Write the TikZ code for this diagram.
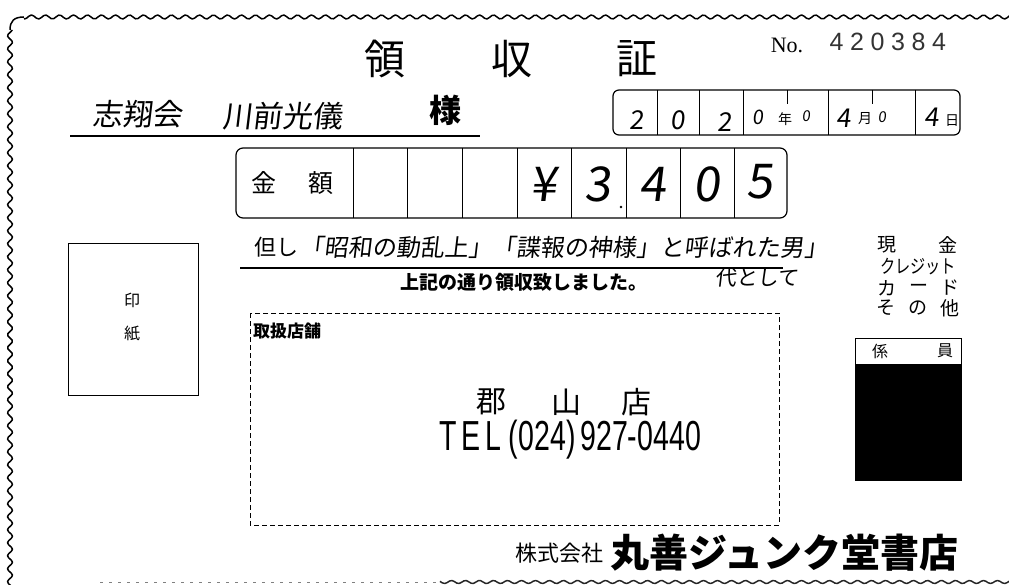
\documentclass[tikz,border=0pt]{standalone}
\usepackage{fontspec}
\newfontfamily\jp{Noto Sans CJK JP}
\newfontfamily\hand[FakeSlant=0.12]{Noto Sans CJK JP}
\newfontfamily\lsans{Liberation Sans}
\newfontfamily\lserif{Liberation Serif}
\newcommand\fsz[1]{\fontsize{#1pt}{#1pt}\selectfont}
\tikzset{
  waveline/.style={line width=1.5pt, line join=round},
  frameline/.style={line width=1.2pt},
  jptxt/.style={inner sep=0pt, font=\jp},
  hwtxt/.style={inner sep=0pt, font=\hand},
  dashbox/.style={line width=1pt, dash pattern=on 5pt off 3pt}
}
\begin{document}
\begin{tikzpicture}[x=1pt,y=-1pt]
\useasboundingbox (0,0) rectangle (1009,585);
% wavy border
\draw[waveline] plot[smooth, domain=24:1012, samples=400] (\x,{17-2*sin(mod(\x,14)*360/14)});
\draw[waveline] plot[smooth, domain=30:588, samples=260] ({10+2.5*sin(mod(\x,13)*360/13)},\x);
\draw[waveline] (10,30) .. controls (10,21) and (14,17) .. (24,17);
\draw[waveline, black!85] plot[smooth, domain=440:1012, samples=240] (\x,{582-1.5*sin(mod(\x,14)*360/14)});
\draw[gray, line width=1pt, dash pattern=on 3pt off 6pt] (100,582) -- (440,582);

% title
\node[jptxt] (ryo) at (385,59) {\fsz{41}領};
\node[jptxt] (shu) at (512,59) {\fsz{41}収};
\node[jptxt] (sho) at (637,59) {\fsz{41}証};
\node[inner sep=0pt, font=\lserif] (noLbl) at (787,45) {\fsz{22}No.};
\foreach \d [count=\i] in {4,2,0,3,8,4}
  \node[inner sep=0pt, font=\lsans, text=black!80] (num\i) at (816+20.5*\i,42) {\fsz{25}\d};

% name
\node[hwtxt] (nm1) at (137,114) {\fsz{30}志翔会};
\node[hwtxt] (nm2) at (282,116) {\fsz{30}川前光儀};
\draw[line width=1.6pt] (70,136) -- (480,136);
\node[jptxt] (sama) at (445,110) {\fsz{32}\bfseries 様};

% date box
\draw[frameline, rounded corners=6pt] (613,90) rectangle (960,135);
\foreach \x in {657,699,743,828,915} \draw[line width=1pt] (\x,90) -- (\x,135);
\foreach \x in {787,872} \draw[line width=0.8pt] (\x,90) -- (\x,104);
\node[hwtxt] (d1) at (637,120) {\fsz{26}2};
\node[hwtxt] (d2) at (678,120) {\fsz{26}0};
\node[hwtxt] (d3) at (725,122) {\fsz{26}2};
\node[hwtxt] (d4) at (758,117) {\fsz{20}0};
\node[jptxt] (nen) at (785,119) {\fsz{14}年};
\node[hwtxt] (d5) at (806,116) {\fsz{15}0};
\node[hwtxt] (d6) at (844,118) {\fsz{26}4};
\node[jptxt] (tsuki) at (865,119) {\fsz{14}月};
\node[hwtxt] (d7) at (882,117) {\fsz{15}0};
\node[hwtxt] (d8) at (932,117) {\fsz{26}4};
\node[jptxt] (hi) at (952,121) {\fsz{14}日};

% amount box
\draw[frameline, rounded corners=7pt] (236,148) rectangle (787,218);
\foreach \x in {353,407,462,517,571,626,680,734} \draw[line width=1pt] (\x,148) -- (\x,218);
\node[jptxt] (kin) at (264,183) {\fsz{25}金};
\node[jptxt] (gaku) at (321,183) {\fsz{25}額};
\node[hwtxt] (yen) at (544,184) {\fsz{48}¥};
\node[hwtxt] (a1) at (598,184) {\fsz{48}3};
\fill (621,207) circle (1.3pt);
\node[hwtxt] (a2) at (653,184) {\fsz{48}4};
\node[hwtxt] (a3) at (707,184) {\fsz{48}0};
\node[hwtxt] (a4) at (760,182) {\fsz{48}5};

% purpose
\node[jptxt] (tadashi) at (276,247) {\fsz{22}但し};
\node[hwtxt, anchor=west] (purp) at (300,247) {\fsz{24}「昭和の動乱上」「諜報の神様」と呼ばれた男」};
\draw[line width=1.6pt] (240,268) -- (783,268);
\node[jptxt, anchor=west] (joki) at (400,282) {\fsz{19}\bfseries 上記の通り領収致しました。};
\node[hwtxt] (dai) at (757,278) {\fsz{21}代として};

% stamp box
\draw[line width=1pt] (68,244) rectangle (198,395);
\node[jptxt] (in) at (132,300) {\fsz{16}印};
\node[jptxt] (shi) at (132,334) {\fsz{16}紙};

% store box
\draw[dashbox] (250,313) rectangle (779,525);
\node[jptxt, anchor=west] (toriatsukai) at (253,331) {\fsz{17}\bfseries 取扱店舗};
\node[jptxt] (s1) at (491,402) {\fsz{30}郡};
\node[jptxt] (s2) at (566,402) {\fsz{30}山};
\node[jptxt] (s3) at (636,402) {\fsz{30}店};
\node[inner sep=0pt, font=\lsans] (tel) at (570,440) {\scalebox{0.68}[1]{\fsz{42}T\,E\,L (024)\,927-0440}};

% payment method
\node[jptxt] (p1) at (887,245) {\fsz{19}現};
\node[jptxt] (p2) at (948,245) {\fsz{19}金};
\node[jptxt] (p3) at (918,267) {\scalebox{0.8}[1]{\fsz{19}クレジット}};
\node[jptxt] (p4) at (887,288) {\fsz{19}カ};
\node[jptxt] (p5) at (919,288) {\fsz{19}ー};
\node[jptxt] (p6) at (950,288) {\fsz{19}ド};
\node[jptxt] (p7) at (886,308) {\fsz{19}そ};
\node[jptxt] (p8) at (918,308) {\fsz{19}の};
\node[jptxt] (p9) at (950,308) {\fsz{19}他};

% clerk box
\draw[line width=1pt] (855,338) rectangle (961,480);
\fill (855,364) rectangle (961,480);
\node[jptxt] (kakari) at (880,351) {\fsz{16}係};
\node[jptxt] (in2) at (945,351) {\fsz{16}員};

% company
\node[jptxt, anchor=west] (kabu) at (515,553) {\fsz{22}株式会社};
\node[jptxt, anchor=west] (maruzen) at (610,553) {\fsz{39}\bfseries 丸善ジュンク堂書店};
\end{tikzpicture}
\end{document}
